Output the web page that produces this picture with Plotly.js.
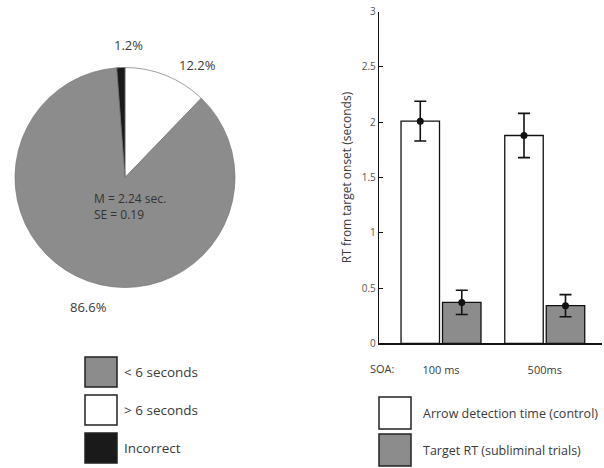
<!DOCTYPE html>
<html>
<head>
<meta charset="utf-8">
<script src="https://cdn.plot.ly/plotly-3.0.1.min.js"></script>
<style>
  html, body { margin: 0; padding: 0; background: #fff; }
  #chart { width: 604px; height: 468px; }
</style>
</head>
<body>
<div id="chart"></div>
<script>
// Pie: share of responses by outcome (clockwise from 12 o'clock)
const pieLabels = ['> 6 seconds', '< 6 seconds', 'Incorrect'];
const pieValues = [12.2, 86.6, 1.2];
const pieColors = ['#ffffff', '#8c8c8c', '#1a1a1a'];
const legendOrder = [1, 0, 2];          // legend lists < 6, > 6, Incorrect
const meanRT = 2.24;
const seRT = 0.19;

// Bars: RT from target onset by SOA
const soaLabels = ['100 ms', '500ms'];
const arrowRT = [2.01, 1.88];
const arrowErr = [0.18, 0.20];
const targetRT = [0.37, 0.34];
const targetErr = [0.11, 0.10];
const barNames = ['Arrow detection time (control)', 'Target RT (subliminal trials)'];
const barColors = ['#ffffff', '#8c8c8c'];
const yTicks = [0, 0.5, 1, 1.5, 2, 2.5, 3];

const W = 604, H = 468;
const px = x => x / W;
const py = y => 1 - y / H;
const FONT = 'Open Sans, Noto Sans, sans-serif';
const TXT = '#3a3a3a';

const idx = soaLabels.map((_, i) => i);
const OFF = 0.2, BW = 0.371;

const traces = [
  {
    type: 'pie', values: pieValues, labels: pieLabels, sort: false,
    direction: 'clockwise', rotation: 0, textinfo: 'none', hoverinfo: 'label+percent',
    marker: { colors: pieColors, line: { color: '#777', width: 0.7 } },
    domain: { x: [px(15), px(235)], y: [py(288), py(67)] }, showlegend: false
  },
  {
    type: 'bar', x: idx.map(i => i - OFF), y: arrowRT, width: BW, name: barNames[0],
    marker: { color: barColors[0], line: { color: '#111', width: 1.3 } },
    error_y: { type: 'data', array: arrowErr, color: '#111', thickness: 1.6, width: 6 },
    xaxis: 'x', yaxis: 'y', showlegend: false
  },
  {
    type: 'bar', x: idx.map(i => i + OFF), y: targetRT, width: BW, name: barNames[1],
    marker: { color: barColors[1], line: { color: '#111', width: 1.3 } },
    error_y: { type: 'data', array: targetErr, color: '#111', thickness: 1.6, width: 6 },
    xaxis: 'x', yaxis: 'y', showlegend: false
  },
  {
    type: 'scatter', mode: 'markers',
    x: idx.map(i => i - OFF).concat(idx.map(i => i + OFF)),
    y: arrowRT.concat(targetRT),
    marker: { color: '#111', size: 7 }, xaxis: 'x', yaxis: 'y', showlegend: false,
    hoverinfo: 'skip'
  }
];

const annotations = [];
const shapes = [];
const pct = v => v.toFixed(1) + '%';

// Slice labels
annotations.push(
  { text: pct(pieValues[2]), x: px(128), y: py(45) },
  { text: pct(pieValues[0]), x: px(197), y: py(65) },
  { text: pct(pieValues[1]), x: px(88), y: py(307) }
);
annotations.forEach(a => Object.assign(a, {
  xref: 'paper', yref: 'paper', showarrow: false, xanchor: 'center', yanchor: 'middle',
  font: { family: FONT, size: 13, color: TXT }
}));
annotations.push({
  text: 'M = ' + meanRT.toFixed(2) + ' sec.<br>SE = ' + seRT.toFixed(2),
  xref: 'paper', yref: 'paper', x: px(92), y: py(206), showarrow: false,
  xanchor: 'left', yanchor: 'middle', align: 'left',
  font: { family: FONT, size: 12, color: '#333' }
});

// Pie key
legendOrder.forEach((k, j) => {
  const top = 357 + j * 38;
  shapes.push({ type: 'rect', xref: 'paper', yref: 'paper',
    x0: px(85), x1: px(117), y0: py(top + 30), y1: py(top),
    fillcolor: pieColors[k], line: { color: '#222', width: 1.5 } });
  annotations.push({ text: pieLabels[k], xref: 'paper', yref: 'paper',
    x: px(122), y: py(top + 15), xanchor: 'left', yanchor: 'middle', showarrow: false,
    font: { family: FONT, size: 13.5, color: TXT } });
});

// Bar key
barNames.forEach((n, j) => {
  const top = 397 + j * 37;
  shapes.push({ type: 'rect', xref: 'paper', yref: 'paper',
    x0: px(379), x1: px(411), y0: py(top + 32), y1: py(top),
    fillcolor: barColors[j], line: { color: '#222', width: 1.5 } });
  annotations.push({ text: n, xref: 'paper', yref: 'paper',
    x: px(421), y: py(top + 16), xanchor: 'left', yanchor: 'middle', showarrow: false,
    font: { family: FONT, size: 12.5, color: TXT } });
});

annotations.push({ text: 'SOA:', xref: 'paper', yref: 'paper', x: px(368), y: py(368),
  xanchor: 'left', yanchor: 'middle', showarrow: false,
  font: { family: FONT, size: 11, color: TXT } });

const layout = {
  width: W, height: H, margin: { l: 0, r: 0, t: 0, b: 0 },
  paper_bgcolor: '#fff', plot_bgcolor: 'rgba(0,0,0,0)',
  font: { family: FONT, color: TXT },
  barmode: 'overlay',
  xaxis: {
    domain: [px(379.3), px(602)], range: [-0.595, 1.552],
    tickvals: idx, ticktext: soaLabels, ticks: '', ticklabelstandoff: 16,
    tickfont: { family: FONT, size: 11, color: TXT },
    showline: true, linecolor: '#111', linewidth: 1.5, showgrid: false, zeroline: false,
    fixedrange: true
  },
  yaxis: {
    domain: [py(343.3), py(11.7)], range: [0, 3],
    tickvals: yTicks, ticktext: yTicks.map(String), ticks: 'inside', ticklen: 4,
    tickcolor: '#111', tickfont: { family: FONT, size: 10, color: '#555' },
    showline: true, linecolor: '#111', linewidth: 1.5, showgrid: false, zeroline: false,
    title: { text: 'RT from target onset (seconds)', standoff: 7,
             font: { family: FONT, size: 12, color: TXT } },
    fixedrange: true
  },
  shapes, annotations, showlegend: false
};

Plotly.newPlot('chart', traces, layout, { displayModeBar: false, staticPlot: true });
</script>
</body>
</html>
